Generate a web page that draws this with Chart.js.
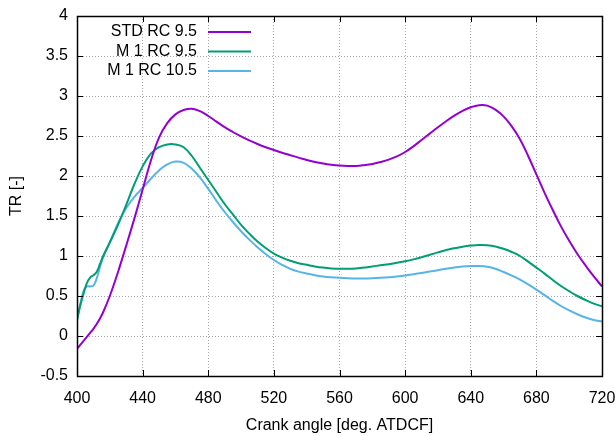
<!DOCTYPE html>
<html>
<head>
<meta charset="utf-8">
<script src="https://cdn.jsdelivr.net/npm/chart.js@4/dist/chart.umd.min.js"></script>
<style>
  body { margin: 0; background: #fff; }
</style>
</head>
<body>
<canvas id="chart" width="616" height="436"></canvas>
<script>
// crank angle samples [deg]
const angles = [
  400, 402, 404, 406, 408, 410, 412, 414, 416, 420,
  425, 430, 435, 440, 445, 450, 455, 460, 465, 470,
  475, 480, 485, 490, 495, 500, 505, 510, 515, 520,
  525, 530, 535, 540, 545, 550, 555, 560, 565, 570,
  575, 580, 585, 590, 595, 600, 605, 610, 615, 620,
  625, 630, 635, 640, 645, 650, 655, 660, 665, 670,
  675, 680, 685, 690, 695, 700, 705, 710, 715, 720];

const stdRc95 = [
  -0.16, -0.11, -0.06, -0.01, 0.04, 0.09, 0.15, 0.22, 0.3, 0.5,
  0.8, 1.13, 1.47, 1.83, 2.19, 2.48, 2.66, 2.77, 2.825, 2.84,
  2.81, 2.75, 2.68, 2.61, 2.55, 2.495, 2.445, 2.4, 2.36, 2.325,
  2.29, 2.26, 2.23, 2.2, 2.175, 2.155, 2.14, 2.13, 2.125, 2.125,
  2.135, 2.15, 2.175, 2.205, 2.245, 2.3, 2.37, 2.45, 2.53, 2.61,
  2.685, 2.755, 2.815, 2.86, 2.885, 2.88, 2.83, 2.745, 2.62, 2.46,
  2.25, 2.02, 1.79, 1.575, 1.37, 1.19, 1.025, 0.88, 0.745, 0.62];

const m1Rc95 = [
  0.2, 0.38, 0.53, 0.66, 0.73, 0.76, 0.8, 0.9, 1.0, 1.17,
  1.39, 1.64, 1.9, 2.12, 2.28, 2.36, 2.395, 2.395, 2.36, 2.25,
  2.1, 1.95, 1.8, 1.65, 1.52, 1.39, 1.28, 1.18, 1.1, 1.03,
  0.98, 0.94, 0.91, 0.89, 0.87, 0.855, 0.845, 0.84, 0.84, 0.845,
  0.855, 0.87, 0.883, 0.898, 0.915, 0.935, 0.958, 0.985, 1.015, 1.045,
  1.075, 1.098, 1.117, 1.13, 1.138, 1.135, 1.12, 1.09, 1.05, 1.0,
  0.93, 0.855, 0.78, 0.7, 0.625, 0.56, 0.5, 0.45, 0.405, 0.37];

const m1Rc105 = [
  0.2, 0.4, 0.56, 0.62, 0.62, 0.63, 0.72, 0.86, 0.99, 1.17,
  1.41, 1.6, 1.74, 1.85, 1.965, 2.07, 2.145, 2.18, 2.165, 2.09,
  1.98, 1.84, 1.69, 1.55, 1.425, 1.31, 1.205, 1.11, 1.025, 0.95,
  0.89, 0.84, 0.805, 0.78, 0.76, 0.745, 0.735, 0.728, 0.723, 0.72,
  0.72, 0.723, 0.728, 0.735, 0.745, 0.757, 0.772, 0.788, 0.805, 0.822,
  0.84, 0.856, 0.868, 0.875, 0.875, 0.865, 0.84, 0.8, 0.755, 0.705,
  0.645, 0.58, 0.51, 0.44, 0.375, 0.32, 0.272, 0.232, 0.2, 0.18];

const seriesNames = ["STD RC 9.5", "M 1 RC 9.5", "M 1 RC 10.5"];
const seriesColors = ["#9400d3", "#009e73", "#56b4e9"];

const xTicks = [400, 440, 480, 520, 560, 600, 640, 680, 720];
const yTicks = [-0.5, 0, 0.5, 1, 1.5, 2, 2.5, 3, 3.5, 4];

const FONT = "'Liberation Sans', Arial, sans-serif";

function toPoints(values) {
  return values.map((v, i) => ({ x: angles[i], y: v }));
}

function makeDataset(i, values) {
  return {
    label: seriesNames[i],
    data: toPoints(values),
    borderColor: seriesColors[i],
    borderWidth: 2,
    pointRadius: 0,
    fill: false,
    tension: 0.4,
  };
}

// gnuplot style key: text right aligned, sample line on the right
const keyPlugin = {
  id: "key",
  afterDatasetsDraw(chart) {
    const { ctx, chartArea } = chart;
    ctx.save();
    ctx.font = "16px " + FONT;
    ctx.textAlign = "right";
    ctx.textBaseline = "middle";
    chart.data.datasets.forEach((ds, i) => {
      const y = chartArea.top + 16 + i * 19.5;
      const tx = chartArea.left + 120;
      ctx.fillStyle = "#000";
      ctx.fillText(ds.label, tx, y);
      ctx.strokeStyle = ds.borderColor;
      ctx.lineWidth = 2;
      ctx.beginPath();
      ctx.moveTo(tx + 11, y);
      ctx.lineTo(tx + 54, y);
      ctx.stroke();
    });
    ctx.restore();
  },
};

// border box and inward tick marks on all four sides
const framePlugin = {
  id: "frame",
  afterDatasetsDraw(chart) {
    const { ctx, chartArea: a, scales } = chart;
    ctx.save();
    ctx.strokeStyle = "#000";
    ctx.lineWidth = 1;
    ctx.beginPath();
    xTicks.forEach((v) => {
      const px = Math.round(scales.x.getPixelForValue(v)) + 0.5;
      ctx.moveTo(px, a.bottom);
      ctx.lineTo(px, a.bottom - 6);
      ctx.moveTo(px, a.top);
      ctx.lineTo(px, a.top + 6);
    });
    yTicks.forEach((v) => {
      const py = Math.round(scales.y.getPixelForValue(v)) + 0.5;
      ctx.moveTo(a.left, py);
      ctx.lineTo(a.left + 6, py);
      ctx.moveTo(a.right, py);
      ctx.lineTo(a.right - 6, py);
    });
    ctx.stroke();
    ctx.lineWidth = 1.5;
    ctx.strokeRect(Math.round(a.left) + 0.5, Math.round(a.top) + 0.5,
      Math.round(a.width), Math.round(a.height));
    ctx.restore();
  },
};

const gridStyle = { color: "rgba(0,0,0,0.35)", lineWidth: 1, drawTicks: false };

new Chart(document.getElementById("chart"), {
  type: "line",
  data: {
    datasets: [
      makeDataset(0, stdRc95),
      makeDataset(1, m1Rc95),
      makeDataset(2, m1Rc105),
    ],
  },
  options: {
    responsive: false,
    devicePixelRatio: 1,
    animation: false,
    layout: { padding: { top: 16, right: 14, left: 0, bottom: 0 } },
    plugins: {
      legend: { display: false },
      tooltip: { enabled: false },
    },
    scales: {
      x: {
        type: "linear",
        min: 400,
        max: 720,
        afterBuildTicks: (scale) => { scale.ticks = xTicks.map((v) => ({ value: v })); },
        afterFit: (scale) => {
          scale.height = 60;
          scale.paddingLeft = 0;
          scale.paddingRight = 0;
        },
        grid: gridStyle,
        border: { display: false, dash: [1, 2] },
        ticks: {
          padding: 13,
          color: "#000",
          font: { size: 16, family: FONT },
          maxRotation: 0,
          callback: (v) => String(v),
        },
        title: {
          display: true,
          text: "Crank angle [deg. ATDCF]",
          color: "#000",
          font: { size: 16, family: FONT },
          padding: { top: 0, bottom: 1 },
        },
      },
      y: {
        type: "linear",
        min: -0.5,
        max: 4,
        afterBuildTicks: (scale) => { scale.ticks = yTicks.map((v) => ({ value: v })); },
        afterFit: (scale) => {
          scale.width = 77;
          scale.paddingTop = 0;
          scale.paddingBottom = 0;
        },
        grid: gridStyle,
        border: { display: false, dash: [1, 2] },
        ticks: {
          padding: 9,
          color: "#000",
          font: { size: 16, family: FONT },
          callback: (v) => String(v),
        },
        title: {
          display: true,
          text: "TR [-]",
          color: "#000",
          font: { size: 16, family: FONT },
          padding: { top: 7, bottom: 0 },
        },
      },
    },
  },
  plugins: [keyPlugin, framePlugin],
});
</script>
</body>
</html>
